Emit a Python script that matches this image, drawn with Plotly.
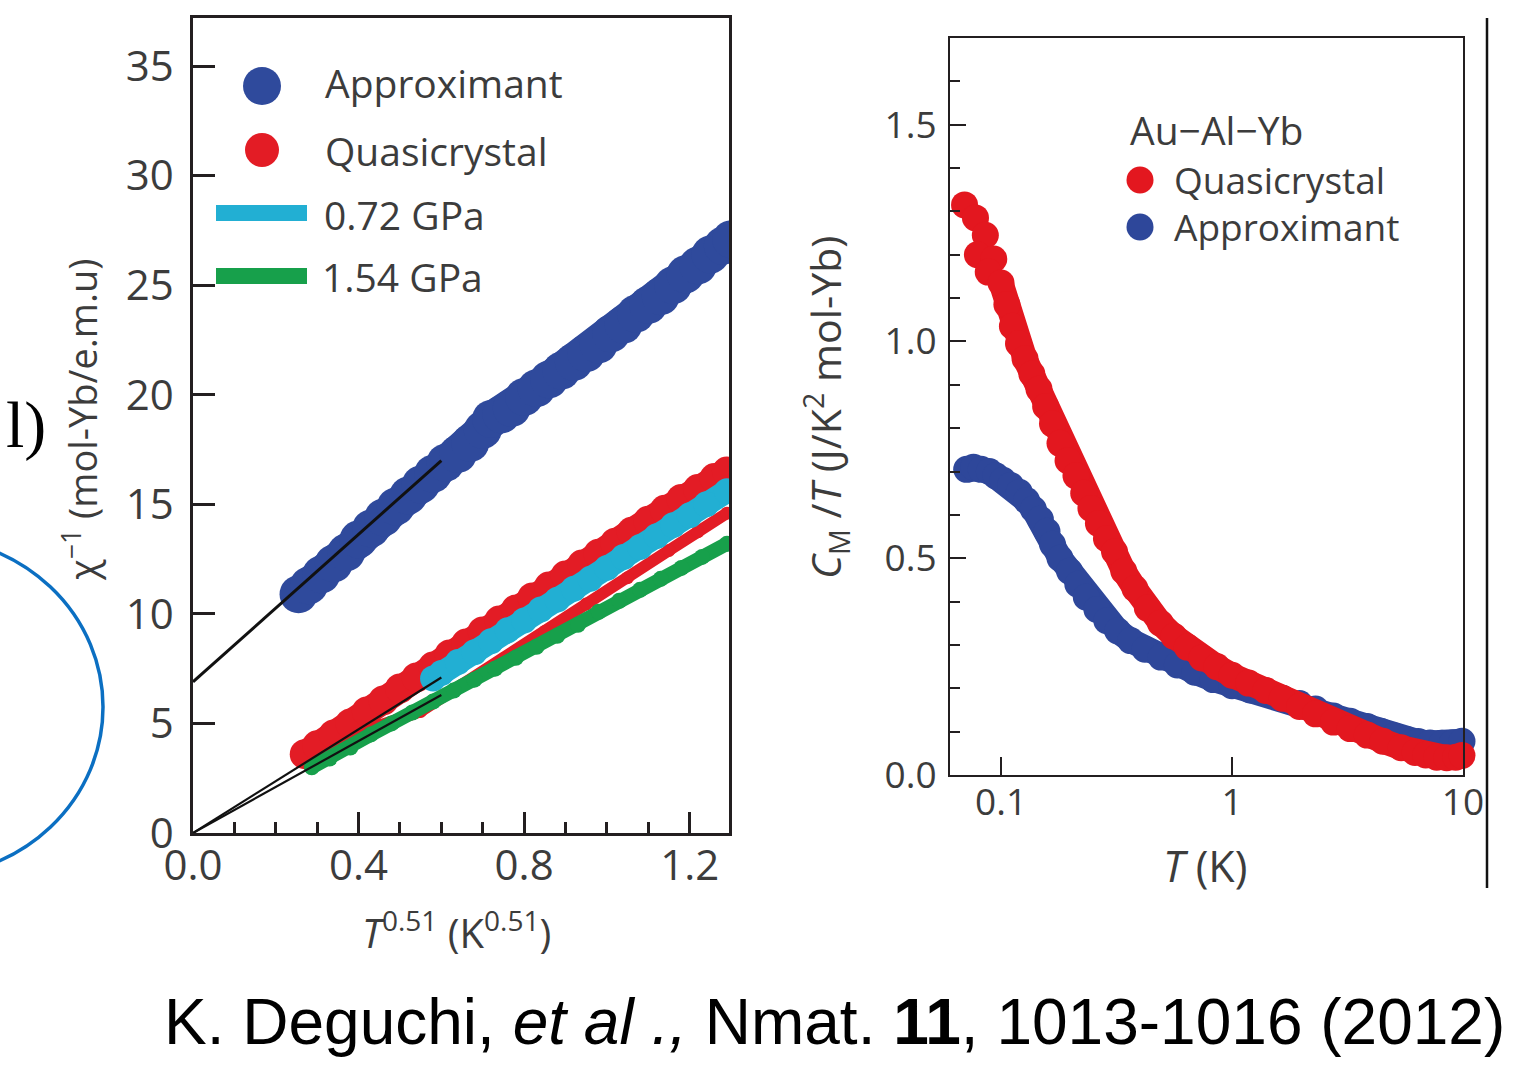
import plotly.graph_objects as go

W, H = 1533, 1079


def px(x):
    return x / W


def py(y):
    return 1 - y / H


# ---------------- data: left panel (inverse susceptibility) ----------------
appr_x = [0.255, 0.28, 0.31, 0.34, 0.37, 0.40, 0.43, 0.46, 0.49, 0.52, 0.55, 0.58, 0.61, 0.64,
          0.67, 0.70, 0.72, 0.745, 0.77, 0.80, 0.83, 0.86, 0.89, 0.92, 0.95, 0.98, 1.01, 1.04,
          1.07, 1.10, 1.13, 1.16, 1.19, 1.22, 1.25, 1.28, 1.30]
appr_y = [10.9, 11.3, 11.8, 12.3, 12.8, 13.4, 13.9, 14.4, 14.9, 15.4, 15.9, 16.4, 16.9, 17.3,
          17.8, 18.4, 18.9, 19.1, 19.4, 19.9, 20.3, 20.7, 21.1, 21.5, 21.9, 22.3, 22.8, 23.2,
          23.7, 24.1, 24.5, 25.0, 25.5, 25.9, 26.4, 26.8, 27.1]

qc_x = [0.27, 0.30, 0.34, 0.38, 0.42, 0.46, 0.50, 0.54, 0.58, 0.62, 0.66, 0.70, 0.74, 0.78,
        0.82, 0.86, 0.90, 0.94, 0.98, 1.02, 1.06, 1.10, 1.14, 1.18, 1.22, 1.26, 1.29]
qc_y = [3.6, 4.0, 4.5, 5.0, 5.55, 6.05, 6.6, 7.1, 7.6, 8.15, 8.65, 9.2, 9.7, 10.2,
        10.75, 11.25, 11.75, 12.25, 12.75, 13.25, 13.75, 14.25, 14.75, 15.25, 15.7, 16.2, 16.5]

qc2_x = [0.34, 0.45, 0.55, 0.65, 0.75, 0.85, 0.95, 1.05, 1.15, 1.22, 1.29]
qc2_y = [3.6, 4.9, 5.55, 6.75, 7.95, 9.2, 10.45, 11.65, 12.9, 13.75, 14.6]

p072_x = [0.58, 0.60, 0.64, 0.68, 0.72, 0.76, 0.80, 0.84, 0.88, 0.92, 0.96, 1.00, 1.04,
          1.08, 1.12, 1.16, 1.20, 1.24, 1.29]
p072_y = [7.05, 7.3, 7.8, 8.25, 8.75, 9.25, 9.7, 10.2, 10.65, 11.15, 11.6, 12.1, 12.6,
          13.05, 13.55, 14.05, 14.5, 15.0, 15.6]

p154_x = [0.287, 0.33, 0.38, 0.43, 0.48, 0.53, 0.58, 0.63, 0.68, 0.73, 0.78, 0.83, 0.88,
          0.93, 0.98, 1.03, 1.08, 1.13, 1.18, 1.23, 1.29]
p154_y = [3.0, 3.4, 3.9, 4.5, 5.0, 5.5, 6.0, 6.5, 7.0, 7.5, 8.0, 8.5, 9.0,
          9.5, 10.1, 10.6, 11.1, 11.6, 12.1, 12.6, 13.2]

fitA_x = [0.0, 0.60]
fitA_y = [6.9, 17.0]
fitQ_x = [0.0, 0.60]
fitQ_y = [0.0, 7.1]
fitP_x = [0.0, 0.60]
fitP_y = [0.0, 6.3]

left_xticks = [0.0, 0.4, 0.8, 1.2]
left_xticktext = ["0.0", "0.4", "0.8", "1.2"]
left_yticks = [0, 5, 10, 15, 20, 25, 30, 35]

# ---------------- data: right panel (specific heat) ----------------
qcC_T = [0.0695, 0.0775, 0.0855, 0.0790, 0.0930, 0.0880, 0.1000, 0.1060, 0.1120, 0.1190,
         0.1270, 0.1360, 0.1460, 0.1560, 0.1670, 0.1800, 0.1950, 0.2110, 0.2280, 0.2450,
         0.2640, 0.2860, 0.3100, 0.3400, 0.3800, 0.4300, 0.4900, 0.5600, 0.6400, 0.7400,
         0.8600, 1.0000, 1.1800, 1.4000, 1.6500, 1.9600, 2.3000, 2.7500, 3.2500, 3.8500,
         4.5000, 5.4000, 6.2000, 6.9000, 7.7000, 8.5000, 9.3000, 9.9000]
qcC_v = [1.315, 1.285, 1.245, 1.200, 1.190, 1.160, 1.135, 1.085, 1.035, 0.995,
         0.960, 0.925, 0.890, 0.850, 0.810, 0.765, 0.725, 0.690, 0.650, 0.615,
         0.580, 0.545, 0.515, 0.470, 0.430, 0.385, 0.350, 0.320, 0.295, 0.270,
         0.250, 0.230, 0.212, 0.195, 0.177, 0.158, 0.141, 0.122, 0.107, 0.092,
         0.078, 0.063, 0.052, 0.046, 0.041, 0.040, 0.041, 0.045]

apC_T = [0.0710, 0.0760, 0.0820, 0.0890, 0.0950, 0.1020, 0.1100, 0.1200, 0.1290, 0.1380,
         0.1480, 0.1580, 0.1670, 0.1800, 0.1980, 0.2150, 0.2340, 0.2600, 0.2870, 0.3200,
         0.3640, 0.4200, 0.4930, 0.5800, 0.6900, 0.8300, 1.0000, 1.2000, 1.4000, 1.6500,
         1.9600, 2.3000, 2.7500, 3.2500, 3.8500, 4.4000, 5.0500, 5.7000, 6.4000, 7.2000,
         8.1000, 9.0000, 9.9000]
apC_v = [0.705, 0.710, 0.705, 0.700, 0.690, 0.680, 0.668, 0.652, 0.633, 0.613,
         0.590, 0.562, 0.532, 0.500, 0.470, 0.440, 0.410, 0.382, 0.356, 0.332,
         0.310, 0.290, 0.272, 0.254, 0.237, 0.220, 0.206, 0.196, 0.188, 0.177,
         0.165, 0.152, 0.136, 0.124, 0.112, 0.101, 0.090, 0.082, 0.077, 0.074,
         0.073, 0.074, 0.078]

right_xticks = [0.1, 1, 10]
right_xticktext = ["0.1", "1", "10"]
right_yticks = [0.0, 0.5, 1.0, 1.5]
right_yticktext = ["0.0", "0.5", "1.0", "1.5"]

# ---------------- styles ----------------
BLUE = "#2f4a9c"
RED = "#e31c25"
CYAN = "#22afd3"
GREEN = "#17a04b"
BLUE2 = "#2e479a"
RED2 = "#e3171f"
AXC = "#231f20"
TXT = "#3c3c3c"
FONT = "Open Sans"

fig = go.Figure()


def band(x, y, color, size, xa="x", ya="y", clip=True, lw=0.9, line_from=0):
    # continuous band through the dense part of the data, plus one marker per point
    fig.add_trace(go.Scatter(
        x=x[line_from:], y=y[line_from:], mode="lines", xaxis=xa, yaxis=ya,
        line=dict(color=color, width=size * lw),
        showlegend=False, hoverinfo="skip", cliponaxis=clip))
    fig.add_trace(go.Scatter(
        x=x, y=y, mode="markers", xaxis=xa, yaxis=ya,
        marker=dict(color=color, size=size, line=dict(width=0)),
        showlegend=False, hoverinfo="skip", cliponaxis=clip))


band(appr_x, appr_y, BLUE, 38)
band(qc_x, qc_y, RED, 30)
band(qc2_x, qc2_y, RED, 13)
band(p072_x, p072_y, CYAN, 26)
band(p154_x, p154_y, GREEN, 16)
for fx, fy, w in [(fitA_x, fitA_y, 3), (fitQ_x, fitQ_y, 2.2), (fitP_x, fitP_y, 2.2)]:
    fig.add_trace(go.Scatter(x=fx, y=fy, mode="lines", xaxis="x", yaxis="y",
                             line=dict(color="#111111", width=w),
                             showlegend=False, hoverinfo="skip"))

band(apC_T, apC_v, BLUE2, 27, "x2", "y2", clip=False, lw=0.92, line_from=0)
band(qcC_T, qcC_v, RED2, 27, "x2", "y2", clip=False, lw=0.92, line_from=6)

tickfont_l = dict(family=FONT, size=42, color=TXT)
tickfont_r = dict(family=FONT, size=37, color=TXT)

fig.update_layout(
    width=W, height=H, margin=dict(l=0, r=0, t=0, b=0, pad=0, autoexpand=False),
    paper_bgcolor="white", plot_bgcolor="white", showlegend=False,
    xaxis=dict(domain=[px(193), px(729)], range=[0, 1.295], anchor="y", automargin=False,
               tickmode="array", tickvals=left_xticks, ticktext=left_xticktext,
               ticks="inside", ticklen=21, tickwidth=2.5, tickcolor=AXC,
               minor=dict(tickmode="linear", tick0=0, dtick=0.1, ticks="inside",
                          ticklen=11, tickwidth=2.5, tickcolor=AXC),
               showline=True, mirror=True, linecolor=AXC, linewidth=2.5,
               showgrid=False, zeroline=False, tickfont=tickfont_l, ticklabelstandoff=-6),
    yaxis=dict(domain=[py(833), py(18)], range=[0, 37.2], anchor="x", automargin=False,
               tickmode="array", tickvals=left_yticks,
               ticks="inside", ticklen=22, tickwidth=2.5, tickcolor=AXC,
               showline=True, mirror=True, linecolor=AXC, linewidth=2.5,
               showgrid=False, zeroline=False, tickfont=tickfont_l, ticklabelstandoff=8),
    xaxis2=dict(domain=[px(950), px(1463)], type="log", range=[-1.221, 1.0], anchor="y2",
                automargin=False,
                tickmode="array", tickvals=right_xticks, ticktext=right_xticktext,
                ticks="inside", ticklen=18, tickwidth=2, tickcolor=AXC,
                showline=True, mirror=True, linecolor=AXC, linewidth=2,
                showgrid=False, zeroline=False, tickfont=tickfont_r, ticklabelstandoff=-6),
    yaxis2=dict(domain=[py(775), py(38)], range=[0, 1.70], anchor="x2", automargin=False,
                tickmode="array", tickvals=right_yticks, ticktext=right_yticktext,
                ticks="inside", ticklen=16, tickwidth=2, tickcolor=AXC,
                minor=dict(tickmode="linear", tick0=0, dtick=0.1, ticks="inside",
                           ticklen=10, tickwidth=2, tickcolor=AXC),
                showline=True, mirror=True, linecolor=AXC, linewidth=2,
                showgrid=False, zeroline=False, tickfont=tickfont_r, ticklabelstandoff=4),
)

shapes = []
annotations = []


def text(x, y, s, size, xanchor="left", color=TXT, family=FONT, angle=0):
    annotations.append(dict(x=px(x), y=py(y), xref="paper", yref="paper", text=s,
                            showarrow=False, xanchor=xanchor, yanchor="middle",
                            textangle=angle,
                            font=dict(family=family, size=size, color=color)))


def dot(cx, cy, d, color):
    shapes.append(dict(type="circle", xref="paper", yref="paper",
                       x0=px(cx - d / 2), x1=px(cx + d / 2),
                       y0=py(cy + d / 2), y1=py(cy - d / 2),
                       fillcolor=color, line=dict(width=0)))


def bar(x0, x1, y, t, color):
    shapes.append(dict(type="rect", xref="paper", yref="paper",
                       x0=px(x0), x1=px(x1), y0=py(y + t / 2), y1=py(y - t / 2),
                       fillcolor=color, line=dict(width=0)))


# left legend
dot(262, 86, 38, BLUE)
text(323, 82, "Approximant", 39)
dot(262, 150, 34, RED)
text(323, 150, "Quasicrystal", 39)
bar(216, 307, 213, 16, CYAN)
text(322, 214, "0.72 GPa", 39)
bar(216, 307, 276, 16, GREEN)
text(320, 276, "1.54 GPa", 39)

# right legend
text(1128, 130, "Au\u2212Al\u2212Yb", 39)
dot(1140, 180, 27, RED2)
text(1172, 179, "Quasicrystal", 37)
dot(1140, 227, 27, BLUE2)
text(1172, 227, "Approximant", 37)

# axis titles
text(80, 420, "\u03c7<sup>\u22121</sup> (mol-Yb/e.m.u)", 38, xanchor="center", angle=-90)
text(456, 930, "<i>T</i><sup>0.51</sup> (K<sup>0.51</sup>)", 40, xanchor="center")
text(826, 408, "<i>C</i><sub>M</sub> /<i>T</i> (J/K<sup>2</sup> mol-Yb)", 41,
     xanchor="center", angle=-90)
text(1205, 865, "<i>T</i> (K)", 43, xanchor="center")

# slide decorations
text(48, 425, "l)", 66, xanchor="right", color="#000000", family="Liberation Serif")
text(162, 1022, "K. Deguchi, <i>et al .,</i> Nmat. <b>11</b>, 1013-1016 (2012)", 64,
     color="#000000", family="Liberation Sans")

shapes.append(dict(type="circle", xref="paper", yref="paper",
                   x0=px(-257), x1=px(103), y0=py(877), y1=py(537),
                   line=dict(color="#0b6fc2", width=3.5), fillcolor="rgba(0,0,0,0)"))
shapes.append(dict(type="line", xref="paper", yref="paper",
                   x0=px(1487), x1=px(1487), y0=py(18), y1=py(888),
                   line=dict(color="#111111", width=2.5)))

fig.update_layout(shapes=shapes, annotations=annotations)

fig.write_html("out.html", config={"displayModeBar": False},
               post_script="document.body.style.margin='0';document.body.style.overflow='hidden';")
